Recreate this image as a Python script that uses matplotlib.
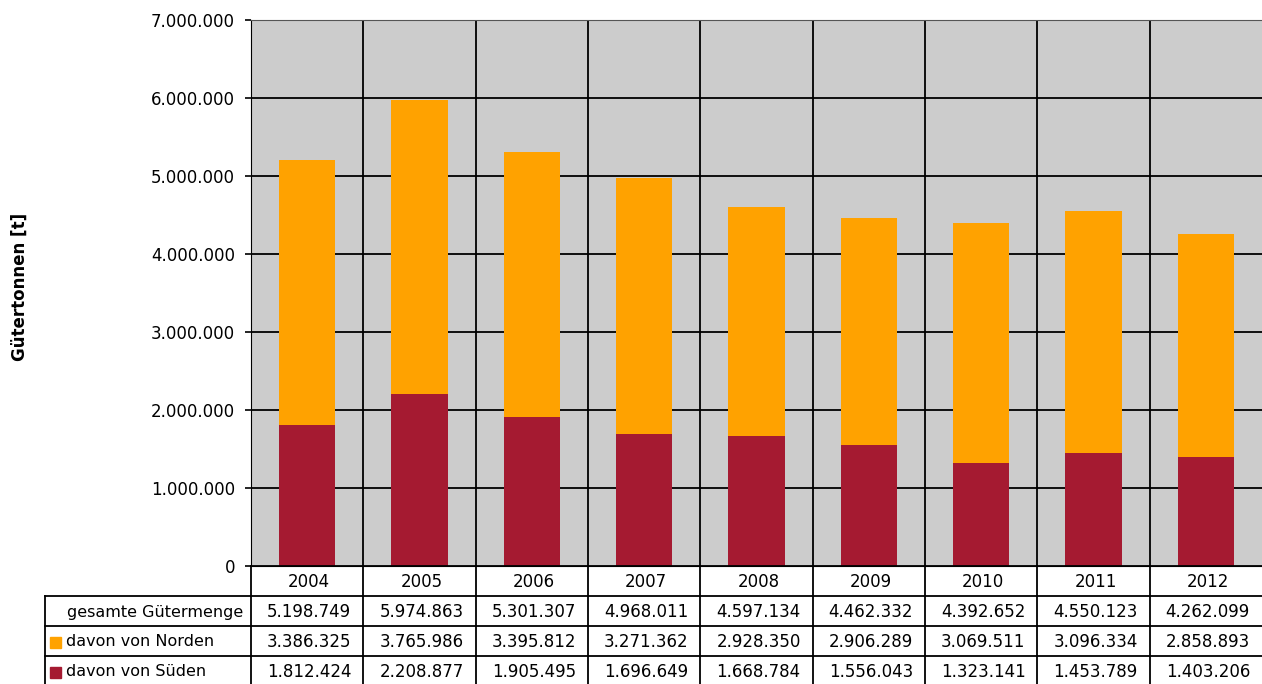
import matplotlib
matplotlib.use("Agg")
from matplotlib import pyplot as plt
from matplotlib.ticker import FuncFormatter

years = ["2004", "2005", "2006", "2007", "2008", "2009", "2010", "2011", "2012"]
gesamt = [5198749, 5974863, 5301307, 4968011, 4597134, 4462332, 4392652, 4550123, 4262099]
norden = [3386325, 3765986, 3395812, 3271362, 2928350, 2906289, 3069511, 3096334, 2858893]
sueden = [1812424, 2208877, 1905495, 1696649, 1668784, 1556043, 1323141, 1453789, 1403206]

ORANGE = "#FFA200"
RED = "#A51A31"
W, H = 1262, 684

def dotfmt(v):
    return "{:,.0f}".format(v).replace(",", ".")

fig = plt.figure(figsize=(W / 100, H / 100), dpi=100)
plt.rcParams['font.family'] = ['DejaVu Sans']

# plot area in pixels
left, right, top, bottom = 251, 1262, 20, 566
ax = fig.add_axes([left / W, 1 - bottom / H, (right - left) / W, (bottom - top) / H])
ax.set_facecolor("#CCCCCC")
x = range(len(years))
ax.bar(x, sueden, width=0.5, color=RED, zorder=3)
ax.bar(x, norden, width=0.5, bottom=sueden, color=ORANGE, zorder=3)
ax.set_xlim(-0.5, len(years) - 0.5)
ax.set_ylim(0, 7000000)
ax.set_yticks(range(0, 7000001, 1000000))
ax.yaxis.set_major_formatter(FuncFormatter(lambda v, p: dotfmt(v)))
ax.tick_params(axis="y", labelsize=12, length=4.5, width=1.2, pad=7)
ax.set_xticks([])
for yv in range(1000000, 7000001, 1000000):
    ax.axhline(yv, color="black", lw=1.3, zorder=2)
for i in range(1, len(years)):
    ax.axvline(i - 0.5, color="black", lw=1.3, zorder=2)
ax.spines["top"].set_color("#555555")
ax.spines["left"].set_color("black")
ax.spines["right"].set_visible(False)
ax.spines["bottom"].set_color("black")
fig.text(20 / W, 1 - 287 / H, "Gütertonnen [t]", rotation=90, ha="center", va="center",
         fontsize=12, fontweight="bold")

# table drawn in pixel coordinates
tb = fig.add_axes([0, 0, 1, 1], zorder=5)
tb.set_xlim(0, W)
tb.set_ylim(H, 0)
tb.axis("off")
tb.patch.set_alpha(0)
cw = (right - left) / len(years)
rows = [566, 596, 626, 656, 686]
lab_left = 45
lc = "black"
tb.plot([left, right], [rows[0], rows[0]], color=lc, lw=1.3)
for r in rows[1:4]:
    tb.plot([lab_left, right], [r, r], color=lc, lw=1.3)
tb.plot([lab_left, lab_left], [rows[1], H], color=lc, lw=1.3)
tb.plot([left, left], [rows[0], H], color=lc, lw=1.3)
for i in range(1, len(years)):
    xv = left + i * cw
    tb.plot([xv, xv], [rows[0], H], color=lc, lw=1.3)

fs = 12
for i, yr in enumerate(years):
    cx = left + (i + 0.5) * cw + 2
    tb.text(cx, (rows[0] + rows[1]) / 2 + 1, yr, ha="center", va="center", fontsize=fs)
    tb.text(cx, (rows[1] + rows[2]) / 2 + 1, dotfmt(gesamt[i]), ha="center", va="center", fontsize=fs)
    tb.text(cx, (rows[2] + rows[3]) / 2 + 1, dotfmt(norden[i]), ha="center", va="center", fontsize=fs)
    tb.text(cx, (rows[3] + rows[4]) / 2 + 1, dotfmt(sueden[i]), ha="center", va="center", fontsize=fs)

tb.text(243, (rows[1] + rows[2]) / 2 + 1, "gesamte Gütermenge", ha="right", va="center", fontsize=11.5)
for (r0, r1), col, lab in [((rows[2], rows[3]), ORANGE, "davon von Norden"),
                           ((rows[3], rows[4]), RED, "davon von Süden")]:
    cy = (r0 + r1) / 2 + 1
    tb.add_patch(plt.Rectangle((50, cy - 5), 11, 11, color=col))
    tb.text(66, cy, lab, ha="left", va="center", fontsize=11.5)

fig.savefig("out.png", dpi=100)
